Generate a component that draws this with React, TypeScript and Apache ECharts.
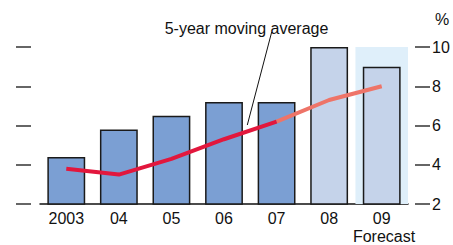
import React, { useEffect, useRef } from "react";
import * as echarts from "echarts";

const categories = ["2003", "04", "05", "06", "07", "08", "09"];
const growthValues = [4.4, 5.8, 6.5, 7.2, 7.2, 10.0, 9.0];
const movingAverageActual = [3.8, 3.5, 4.3, 5.3, 6.2, null, null];
const movingAverageForecast = [null, null, null, null, 6.2, 7.3, 8.0];
const forecastShade = [null, null, null, null, null, null, 10.1];
const forecastFrom = 5;
const yTicks = { min: 2, max: 10, interval: 2 };

const FONT = "Liberation Sans";

export default function App() {
  const ref = useRef<HTMLDivElement>(null);
  useEffect(() => {
    if (!ref.current) return;
    const chart = echarts.init(ref.current, null, { renderer: "svg" });
    const grid = { left: 40, right: 45, top: 47, bottom: 41 };
    chart.setOption({
      animation: false,
      grid,
      textStyle: { fontFamily: FONT },
      xAxis: [
        {
          type: "category",
          data: categories,
          axisLine: { lineStyle: { color: "#111", width: 1.5 } },
          axisTick: { inside: true, length: 4, lineStyle: { color: "#111", width: 1.2 } },
          axisLabel: { fontSize: 16, color: "#111", margin: 6, fontFamily: FONT },
          splitLine: { show: false },
        },
        {
          type: "category",
          data: categories,
          show: false,
          position: "bottom",
        },
      ],
      yAxis: [
        {
          type: "value",
          position: "left",
          offset: 9,
          ...yTicks,
          axisLine: { show: false },
          axisTick: { show: true, length: 15, lineStyle: { color: "#333", width: 1.5 } },
          axisLabel: { show: false },
          splitLine: { show: false },
        },
        {
          type: "value",
          position: "right",
          offset: 7,
          ...yTicks,
          axisLine: { show: false },
          axisTick: { show: true, length: 15, lineStyle: { color: "#333", width: 1.5 } },
          axisLabel: { fontSize: 16, color: "#111", margin: 17, fontFamily: FONT },
          splitLine: { show: false },
        },
      ],
      series: [
        {
          type: "bar",
          xAxisIndex: 1,
          yAxisIndex: 0,
          data: forecastShade,
          barWidth: "100%",
          itemStyle: { color: "#dfeffa" },
          z: 1,
          silent: true,
        },
        {
          type: "bar",
          xAxisIndex: 0,
          yAxisIndex: 0,
          barCategoryGap: "28%",
          data: growthValues.map((v, i) => ({
            value: v,
            itemStyle: {
              color: i >= forecastFrom ? "#c5d3ea" : "#7b9fd3",
              borderColor: "#1a1a1a",
              borderWidth: 1.5,
            },
          })),
          z: 2,
        },
        {
          type: "line",
          xAxisIndex: 0,
          yAxisIndex: 0,
          data: movingAverageActual,
          symbol: "none",
          lineStyle: { color: "#e2173d", width: 4, cap: "butt" },
          z: 4,
        },
        {
          type: "line",
          xAxisIndex: 0,
          yAxisIndex: 0,
          data: movingAverageForecast,
          symbol: "none",
          lineStyle: { color: "#ee7468", width: 4, cap: "butt" },
          z: 3,
        },
      ],
      graphic: [
        {
          type: "text",
          x: 246.5,
          y: 28,
          style: {
            text: "5-year moving average",
            fontSize: 16,
            fontFamily: FONT,
            fill: "#111",
            align: "center",
            verticalAlign: "middle",
          },
        },
        {
          type: "line",
          shape: { x1: 271.7, y1: 32, x2: 247.3, y2: 125 },
          style: { stroke: "#111", lineWidth: 1 },
          z: 10,
        },
        {
          type: "text",
          x: 384,
          y: 236.5,
          style: {
            text: "Forecast",
            fontSize: 16,
            fontFamily: FONT,
            fill: "#111",
            align: "center",
            verticalAlign: "middle",
          },
        },
        {
          type: "text",
          x: 442,
          y: 19,
          style: {
            text: "%",
            fontSize: 16,
            fontFamily: FONT,
            fill: "#111",
            align: "center",
            verticalAlign: "middle",
          },
        },
      ],
    });
    return () => chart.dispose();
  }, []);
  return <div ref={ref} style={{ width: 453, height: 245, position: "absolute", left: 0, top: 0 }} />;
}
